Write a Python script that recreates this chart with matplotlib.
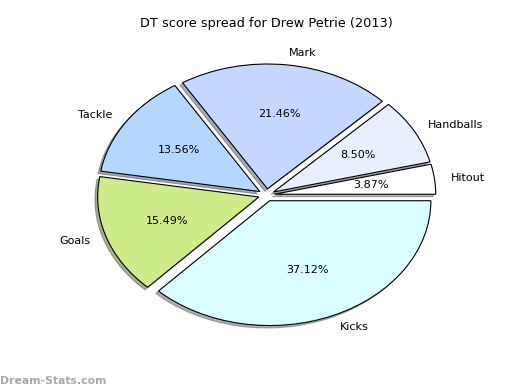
import matplotlib
matplotlib.use("Agg")
import matplotlib.pyplot as plt

# DT score breakdown, Drew Petrie 2013
labels = ["Hitout", "Handballs", "Mark", "Tackle", "Goals", "Kicks"]
shares = [3.87, 8.50, 21.46, 13.56, 15.49, 37.12]
colours = ["#ffffff", "#e8f0ff", "#c4d8ff", "#b4d6ff", "#d0eb8a", "#dbffff"]

fig = plt.figure(figsize=(5.2, 3.9), dpi=100)
ax = fig.add_axes([0.125, 0.1, 0.775, 0.8])

wedges, texts, autotexts = ax.pie(shares, labels=labels, colors=colours,
                                  explode=[0.05] * len(shares),
                                  shadow={"ox": -0.012, "oy": -0.014, "shade": 0.6},
                                  autopct="%1.2f%%", startangle=0,
                                  wedgeprops={"edgecolor": "black", "linewidth": 0.8},
                                  textprops={"fontsize": 8})
ax.set_aspect("auto")
ax.set_xlim(-1.25, 1.25)
ax.set_ylim(-1.25, 1.25)
ax.set_title("DT score spread for Drew Petrie (2013)", fontsize=9.3, pad=9)

fig.text(0.0, 0.01, "Dream-Stats.com", color="#a8a8a8", fontsize=7.8,
         fontweight="bold", ha="left", va="bottom")

fig.savefig("out.png", dpi=100)
